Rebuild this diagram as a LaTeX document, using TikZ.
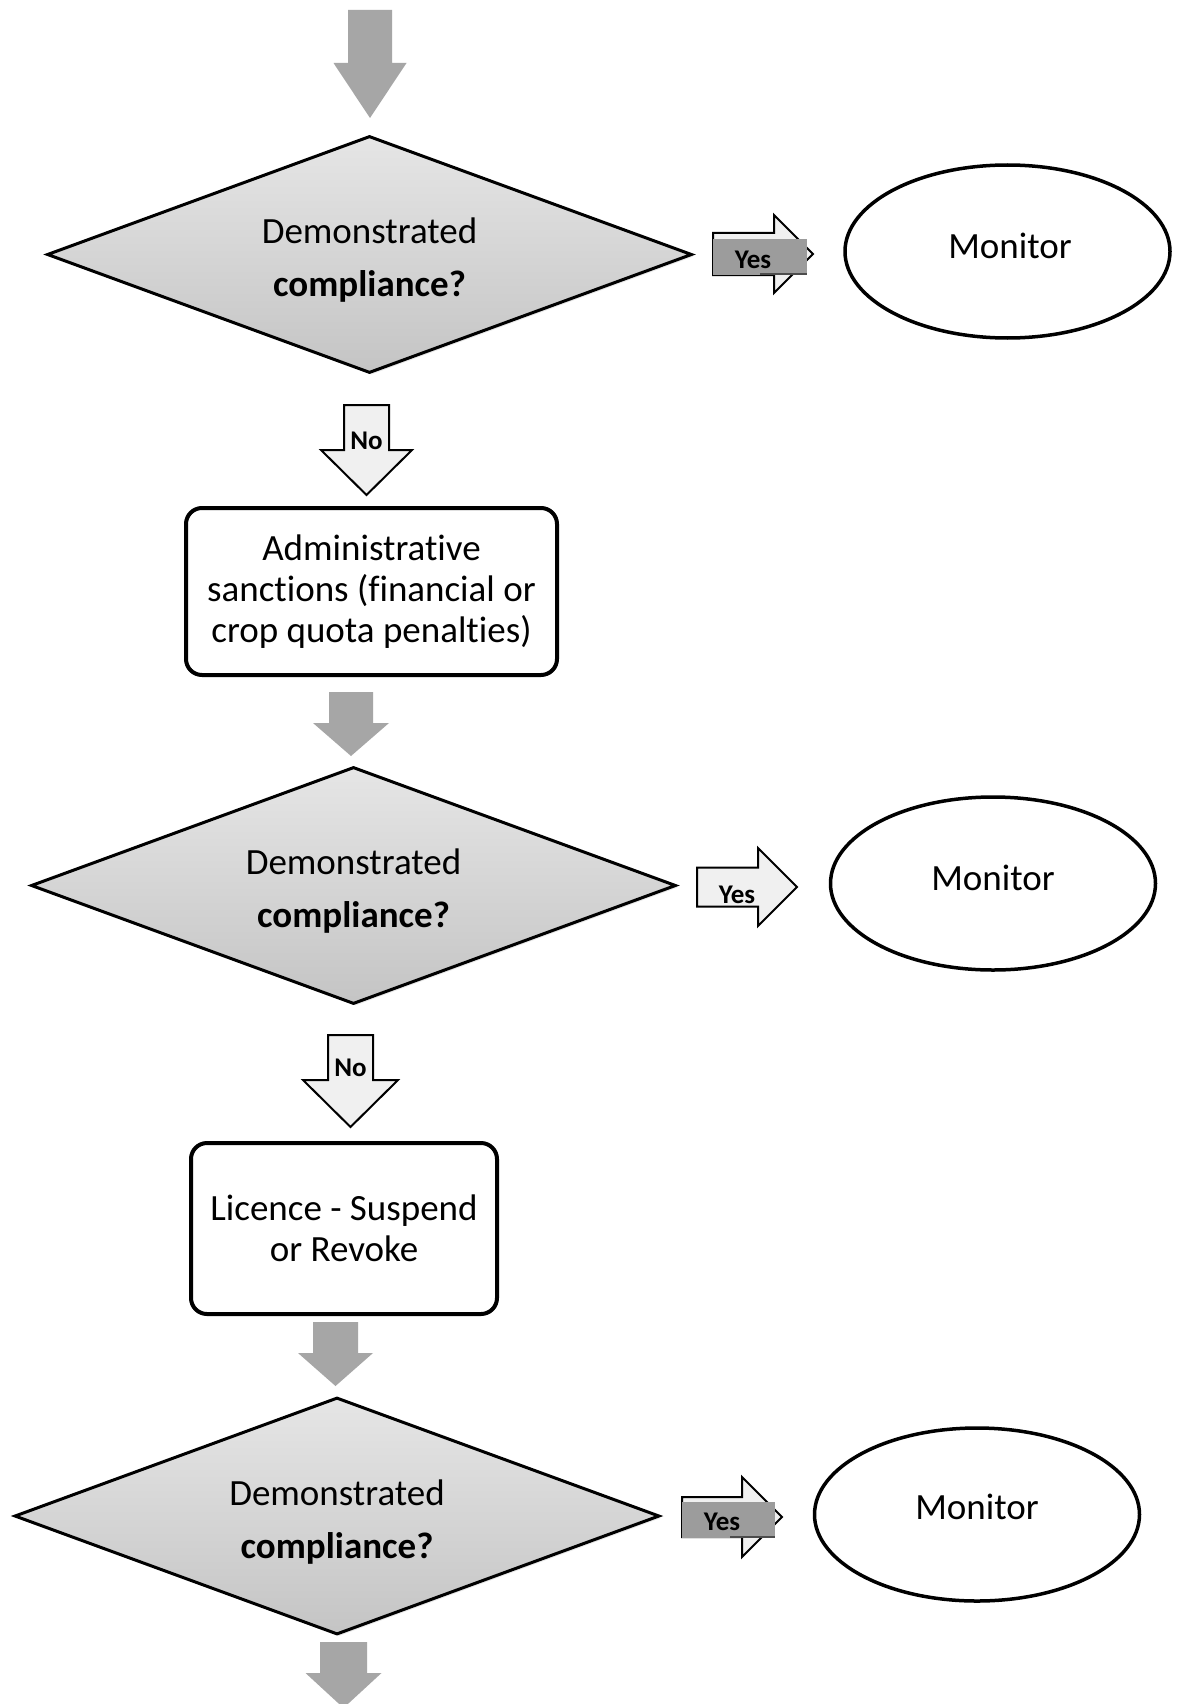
\documentclass[tikz,border=0pt]{standalone}
\usepackage{fontspec}
\setmainfont[Ligatures={NoCommon}]{Carlito}
\usetikzlibrary{shapes.geometric,shadows}

\definecolor{flowgray}{HTML}{A6A6A6}
\definecolor{labelgray}{HTML}{9C9C9C}
\definecolor{paleblock}{HTML}{F0F0F0}

% block arrow pointing down: style, cx, top, head top, tip, half shaft, half head
\newcommand\downblock[7]{%
  \path[#1] (#2-#6,#3) -- (#2+#6,#3) -- (#2+#6,#4) -- (#2+#7,#4) -- (#2,#5)
    -- (#2-#7,#4) -- (#2-#6,#4) -- cycle;}
% block arrow pointing right: style, cy, left, head x, tip, half shaft, half head
\newcommand\rightblock[7]{%
  \path[#1] (#3,#2-#6) -- (#4,#2-#6) -- (#4,#2-#7) -- (#5,#2) -- (#4,#2+#7)
    -- (#4,#2+#6) -- (#3,#2+#6) -- cycle;}

\tikzset{
  bigtext/.style={font=\fontsize{37}{53}\selectfont, align=center},
  decision/.style={diamond, aspect=2.72, draw=black, line width=3pt, inner sep=0pt,
    minimum width=645pt, minimum height=237pt, top color=gray!20, bottom color=gray!46,
    drop shadow={opacity=0.18, shadow xshift=2pt, shadow yshift=-2pt}},
  action/.style={rectangle, rounded corners=16pt, draw=black, line width=4pt, fill=white,
    font=\fontsize{37}{41}\selectfont, align=center},
  outcome/.style={ellipse, draw=black, line width=3.5pt, fill=white, inner sep=0pt,
    minimum width=325pt, minimum height=173pt, font=\fontsize{37}{41}\selectfont},
  flowarrow/.style={fill=flowgray},
  choicearrow/.style={draw=black, line width=2pt, fill=paleblock, line join=miter},
  choicetext/.style={font=\bfseries\fontsize{27}{29}\selectfont, inner sep=0pt},
}

\begin{document}
\begin{tikzpicture}[x=1pt, y=-1pt]
\useasboundingbox[fill=white] (0,0) rectangle (1184,1704);

% main flow arrows
\downblock{flowarrow}{370}{10}{63}{118}{22}{36.5}
\downblock{flowarrow}{351}{692}{723}{756}{22}{38}
\downblock{flowarrow}{335.5}{1322}{1353}{1386}{22.5}{37.5}
\downblock{flowarrow}{343.5}{1642}{1673}{1708}{23.5}{38}

% decisions
\node[decision] (d1) at (369.5,254.5) {};
\node[bigtext] (d1t) at (369.5,260.5) {Demonstrated\\\textbf{compliance?}};
\node[decision] (d2) at (353.5,885.5) {};
\node[bigtext] (d2t) at (353.5,891.5) {Demonstrated\\\textbf{compliance?}};
\node[decision] (d3) at (337,1516) {};
\node[bigtext] (d3t) at (337,1522) {Demonstrated\\\textbf{compliance?}};

% actions
\node[action, minimum width=371pt, minimum height=167pt] (a1) at (371.5,591.5)
  {Administrative\\sanctions (financial or\\crop quota penalties)};
\node[action, minimum width=306pt, minimum height=171pt] (a2) at (344,1228.5)
  {Licence - Suspend\\or Revoke};

% outcomes
\node[outcome] (m1) at (1007.5,251.5) {};
\node at (1010,246) [font=\fontsize{37}{41}\selectfont] (m1t) {Monitor};
\node[outcome] (m2) at (993,883.5) {};
\node at (993,878) [font=\fontsize{37}{41}\selectfont] (m2t) {Monitor};
\node[outcome] (m3) at (977,1514.5) {};
\node at (977,1507) [font=\fontsize{37}{41}\selectfont] (m3t) {Monitor};

% "No" branches
\downblock{choicearrow}{366.5}{405}{450}{495}{22.5}{45.5}
\node[choicetext] (no1) at (366.5,441) {No};
\downblock{choicearrow}{350.5}{1035}{1080}{1127}{22.5}{47.5}
\node[choicetext] (no2) at (350.5,1068) {No};

% "Yes" branches
\rightblock{choicearrow}{254}{713}{774}{813}{21}{39}
\fill[labelgray] (713,239) rectangle (807,275);
\draw[black!70, line width=2.5pt] (760,274) -- (807,274);
\node[choicetext] (yes1) at (753,260) {Yes};

\rightblock{choicearrow}{887}{697}{758}{797}{19.5}{39}
\node[choicetext] (yes2) at (737,895) {Yes};

\rightblock{choicearrow}{1517}{682}{742}{782}{20}{40}
\fill[labelgray] (682,1502) rectangle (775,1538);
\draw[black!70, line width=2.5pt] (730,1537) -- (775,1537);
\node[choicetext] (yes3) at (722,1522) {Yes};
\end{tikzpicture}
\end{document}
